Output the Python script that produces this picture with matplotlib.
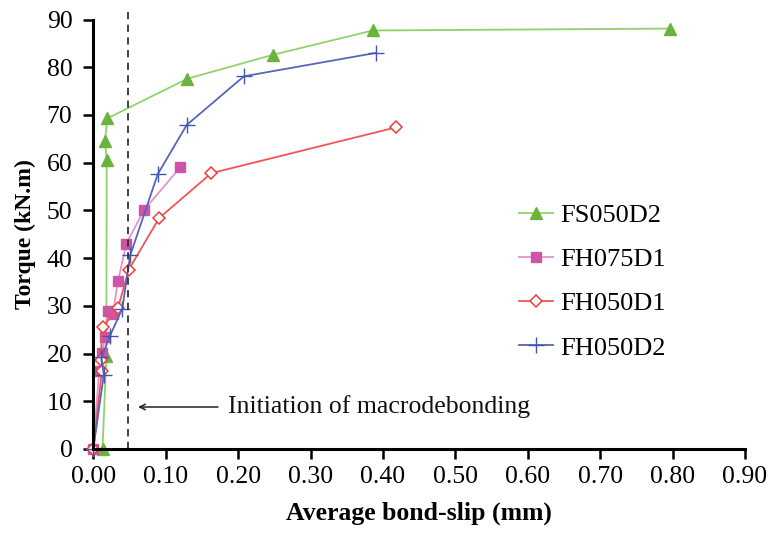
import matplotlib
matplotlib.use("Agg")
import matplotlib.pyplot as plt

plt.rcParams['font.family'] = ['Liberation Serif', 'DejaVu Serif']

# FS050D2 (green triangles)
fs050d2_x = [0.0127, 0.018, 0.0185, 0.016, 0.0195, 0.130, 0.248, 0.386, 0.797]
fs050d2_y = [0.0, 19.4, 60.6, 64.6, 69.3, 77.6, 82.6, 87.7, 88.1]

# FH075D1 (pink squares)
fh075d1_x = [0.0, 0.008, 0.012, 0.016, 0.0205, 0.027, 0.034, 0.0455, 0.070, 0.120]
fh075d1_y = [0.0, 16.3, 20.1, 23.4, 29.0, 28.3, 35.1, 43.0, 50.1, 59.0]

# FH050D1 (red open diamonds)
fh050d1_x = [0.0, 0.0118, 0.010, 0.0127, 0.034, 0.049, 0.091, 0.163, 0.418]
fh050d1_y = [0.0, 16.4, 18.7, 25.5, 29.5, 37.6, 48.4, 57.8, 67.4]

# FH050D2 (blue plus)
fh050d2_x = [0.0, 0.0145, 0.011, 0.0227, 0.040, 0.051, 0.089, 0.129, 0.208, 0.390]
fh050d2_y = [0.0, 15.6, 19.2, 23.6, 29.4, 40.6, 57.6, 67.9, 78.1, 83.0]

macro_x = 0.048
xticks = [0.0, 0.1, 0.2, 0.3, 0.4, 0.5, 0.6, 0.7, 0.8, 0.9]
yticks = [0, 10, 20, 30, 40, 50, 60, 70, 80, 90]

fig = plt.figure(figsize=(7.68, 5.33), dpi=100)
ax = fig.add_axes([0.1215, 0.1576, 0.8485, 0.8058])

ax.plot(fs050d2_x, fs050d2_y, color='#8fd36a', lw=1.3, marker='^', ms=8,
        mfc='#6cb33e', mec='#6cb33e', label='FS050D2', clip_on=False)
ax.plot(fh075d1_x, fh075d1_y, color='#e593cf', lw=1.3, marker='s', ms=7,
        mfc='#cc55a8', mec='#cc55a8', label='FH075D1', clip_on=False)
ax.plot(fh050d1_x, fh050d1_y, color='#f25555', lw=1.3, marker='D', ms=6,
        mfc='white', mec='#f03c3c', mew=1.1, label='FH050D1', clip_on=False)
ax.plot(fh050d2_x, fh050d2_y, color='#5566bb', lw=1.3, marker='+', ms=11,
        mec='#4455b0', mew=1.0, label='FH050D2', clip_on=False)

ax.plot([macro_x, macro_x], [0, 91.5], color='#333333', lw=1.3,
        ls=(0, (4, 3)), clip_on=False)
ax.annotate('', xy=(0.058, 8.8), xytext=(0.176, 8.8),
            arrowprops=dict(arrowstyle='->', color='#222222', lw=1.1))
ax.text(0.186, 8.8, 'Initiation of macrodebonding', fontsize=18.5,
        ha='left', va='center', color='#111111')

ax.set_xlim(0, 0.9)
ax.set_ylim(0, 90)
ax.set_xticks(xticks)
ax.set_yticks(yticks)
ax.set_xticklabels(['%.2f' % v for v in xticks])
ax.tick_params(axis='both', labelsize=18.5, direction='out', length=7, width=1.8)
ax.tick_params(axis='x', pad=5)
ax.tick_params(axis='y', pad=8)
for s in ['top', 'right']:
    ax.spines[s].set_visible(False)
for s in ['left', 'bottom']:
    ax.spines[s].set_linewidth(2.2)

ax.set_xlabel('Average bond-slip (mm)', fontsize=18.5, fontweight='bold', labelpad=10)
ax.set_ylabel('Torque (kN.m)', fontsize=17, fontweight='bold', labelpad=8)

ax.legend(loc='upper left', bbox_to_anchor=(0.617, 0.626), frameon=False,
          fontsize=19, labelspacing=0.78, handlelength=1.3, handletextpad=0.25)

fig.savefig('out.png', dpi=100)
